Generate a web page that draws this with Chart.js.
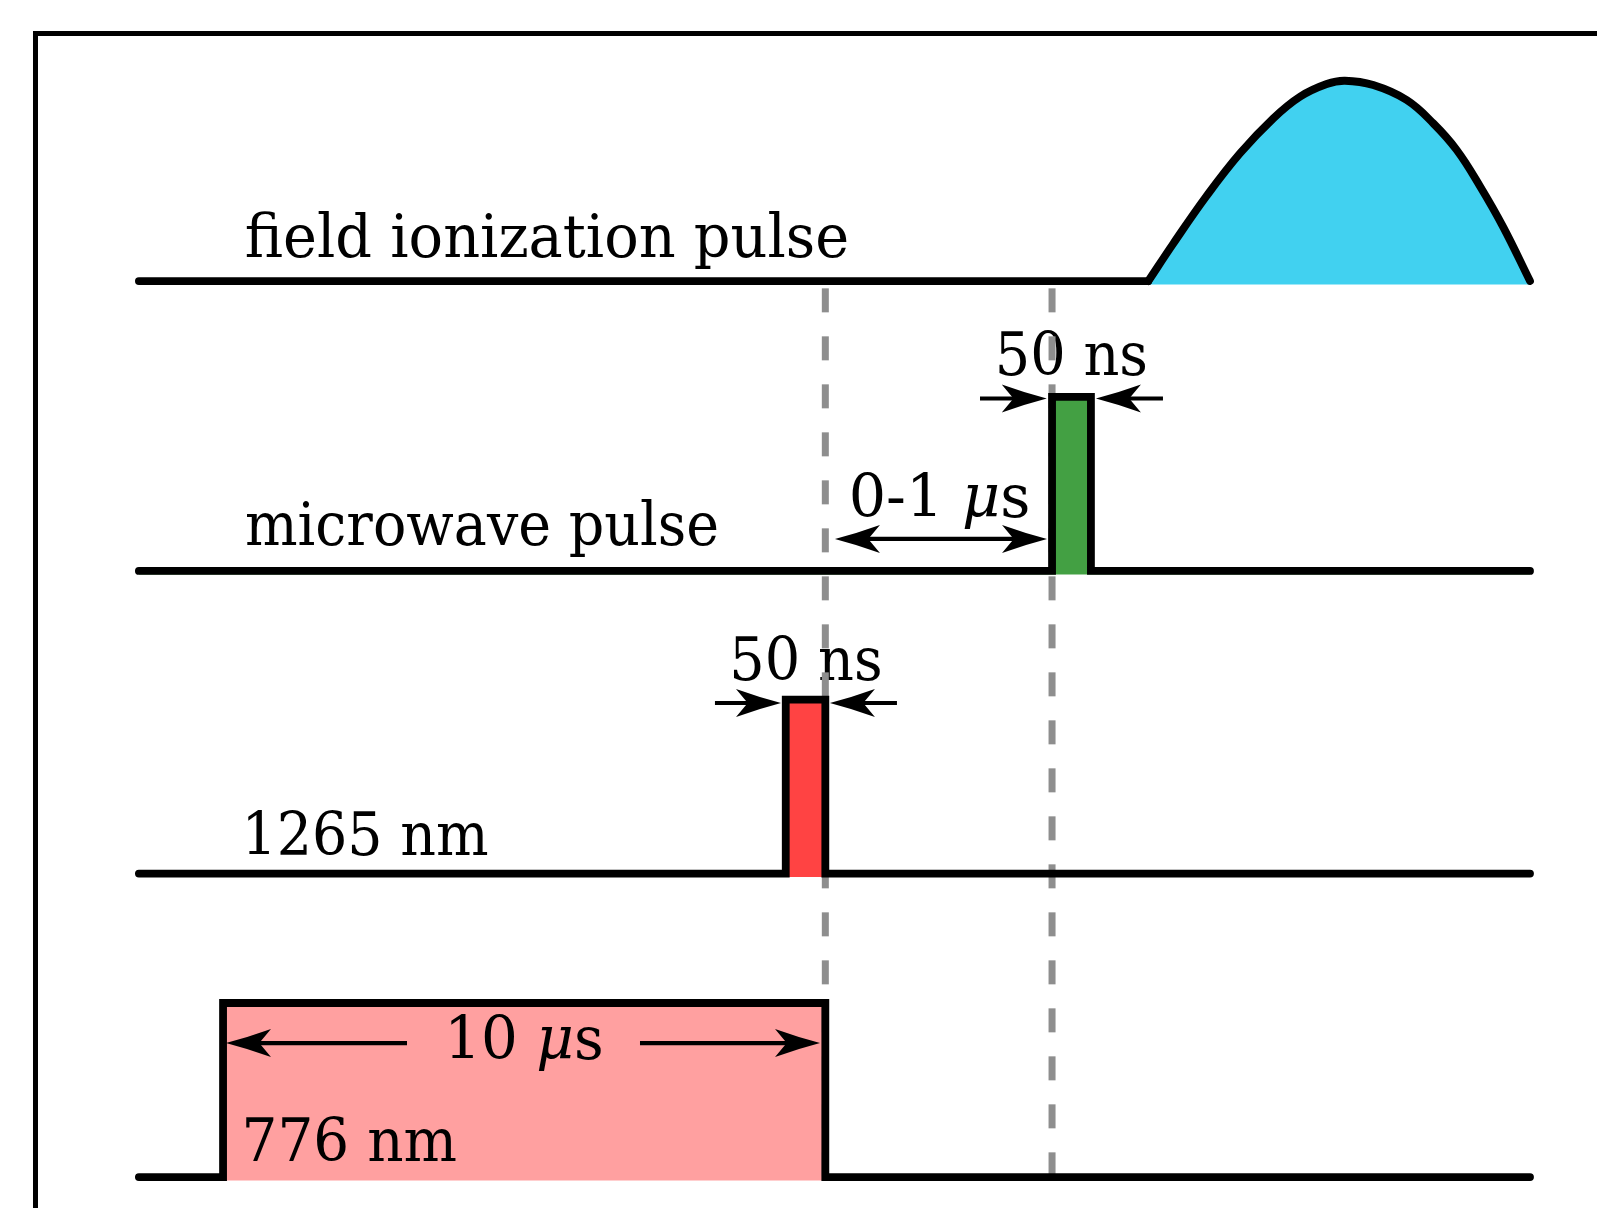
<!DOCTYPE html>
<html>
<head>
<meta charset="utf-8">
<title>Pulse sequence</title>
<script src="https://cdn.jsdelivr.net/npm/chart.js@4.4.1/dist/chart.umd.min.js"></script>
<style>
  html, body { margin: 0; padding: 0; background: #ffffff; overflow: hidden; }
  canvas { display: block; }
</style>
</head>
<body>
<canvas id="seq" width="1597" height="1208"></canvas>
<script>
// Channels, bottom to top
const channelNames = ['776 nm', '1265 nm', 'microwave pulse', 'field ionization pulse'];
// Baseline level of each channel, in units of the pulse height
const channelBaselines = [0, 1.744, 3.483, 5.149];

// Rectangular pulses (schematic time units): channel, switch-on, switch-off
const pulseChannels = [0, 1, 2];
const pulseOn = [6.14, 46.52, 65.63];
const pulseOff = [49.36, 49.36, 68.42];
const pulseHeight = 1;

// Time extent of every trace
const traceStart = 0.1;
const traceEnd = 99.93;

// Field ionization ramp: times and heights above its baseline
const rampTimes = [72.54, 74.33, 76.73, 79.12, 81.51, 83.42, 85.34, 86.65, 88.68, 91.08, 92.99, 94.67, 96.34, 98.01, 99.93];
const rampHeights = [0, 0.215, 0.49, 0.734, 0.935, 1.059, 1.132, 1.151, 1.126, 1.040, 0.906, 0.753, 0.545, 0.31, 0];

// Dashed timing markers: times, and the level range they span (top, bottom)
const markerTimes = [49.36, 65.63];
const markerSpan = [5.107, 0];

// Duration annotations
const spanTexts = ['50 ns', '0-1 μs', '50 ns', '10 μs'];

// ---- styling ----
const colors = {
  trace: '#000000',
  marker: '#8e8e8e',
  fills: ['#ffa0a0', '#ff4343', '#43a043'],
  ramp: '#41d1f0'
};
const traceWidth = 7.8;
const FONT_FAMILY = '"DejaVu Serif", "Liberation Serif", serif';
const FONT_SIZE = 60;

// Label placement: parts (italic flags), anchor (t, level), ink width in px
const labels = [
  { parts: [[channelNames[3], false]], t: 7.84, v: 5.289, w: 600 },
  { parts: [[channelNames[2], false]], t: 7.84, v: 3.632, w: 470 },
  { parts: [[channelNames[1], false]], t: 7.92, v: 1.848, w: 240 },
  { parts: [[channelNames[0], false]], t: 7.8, v: 0.092, w: 210 },
  { parts: [[spanTexts[0], false]], t: 61.85, v: 4.609, w: 146 },
  { parts: [['0-1 ', false], ['μ', true], ['s', false]], t: 51.25, v: 3.795, w: 176 },
  { parts: [[spanTexts[2], false]], t: 42.8, v: 2.856, w: 146 },
  { parts: [['10 ', false], ['μ', true], ['s', false]], t: 22.5, v: 0.677, w: 150 }
];

// Arrows: tail (t, level) -> tip (t, level); double = heads at both ends
const arrows = [
  { from: [60.46, 4.474], to: [65.25, 4.474] },
  { from: [73.59, 4.474], to: [68.78, 4.474] },
  { from: [50.05, 3.667], to: [65.27, 3.667], double: true },
  { from: [41.44, 2.724], to: [46.18, 2.724] },
  { from: [54.50, 2.724], to: [49.69, 2.724] },
  { from: [19.34, 0.770], to: [6.35, 0.770] },
  { from: [36.06, 0.770], to: [48.98, 0.770] }
];

// Outer frame corner (t, level); the frame runs off the right and bottom edges
const frameCorner = [-7.32, 6.571];

// ---- datasets ----
function pulseTrace(i) {
  const b = channelBaselines[pulseChannels[i]];
  return [
    { x: traceStart, y: b },
    { x: pulseOn[i], y: b },
    { x: pulseOn[i], y: b + pulseHeight },
    { x: pulseOff[i], y: b + pulseHeight },
    { x: pulseOff[i], y: b },
    { x: traceEnd, y: b }
  ];
}

const lineBase = {
  type: 'line',
  borderColor: colors.trace,
  borderWidth: traceWidth,
  borderCapStyle: 'round',
  borderJoinStyle: 'miter',
  pointRadius: 0,
  tension: 0,
  fill: false
};

const datasets = [];

// 1265 nm and microwave traces with filled pulses
[1, 2].forEach(i => {
  datasets.push(Object.assign({}, lineBase, {
    label: channelNames[pulseChannels[i]],
    data: pulseTrace(i),
    fill: { value: channelBaselines[pulseChannels[i]] - 0.02 },
    backgroundColor: colors.fills[i]
  }));
});

// 776 nm trace (its fill is a separate layer underneath the labels)
datasets.push(Object.assign({}, lineBase, {
  label: channelNames[0],
  data: pulseTrace(0)
}));

// field ionization: flat part, then the ramp
const fb = channelBaselines[3];
datasets.push(Object.assign({}, lineBase, {
  label: channelNames[3],
  data: [{ x: traceStart, y: fb }, { x: rampTimes[0], y: fb }]
}));
datasets.push(Object.assign({}, lineBase, {
  label: channelNames[3] + ' ramp',
  data: rampTimes.map((t, k) => ({ x: t, y: fb + rampHeights[k] })),
  tension: 0.4,
  borderJoinStyle: 'round',
  fill: { value: fb - 0.02 },
  backgroundColor: colors.ramp
}));

// dashed timing markers
markerTimes.forEach(t => {
  datasets.push({
    type: 'line',
    label: 'marker',
    data: [{ x: t, y: markerSpan[0] }, { x: t, y: markerSpan[1] }],
    borderColor: colors.marker,
    borderWidth: 7,
    borderDash: [24, 24],
    borderCapStyle: 'butt',
    pointRadius: 0,
    fill: false
  });
});

// 776 nm pulse area (drawn first)
const PINK_INDEX = datasets.length;
datasets.push({
  type: 'line',
  label: channelNames[0] + ' area',
  data: [
    { x: pulseOn[0], y: channelBaselines[0] },
    { x: pulseOn[0], y: channelBaselines[0] + pulseHeight },
    { x: pulseOff[0], y: channelBaselines[0] + pulseHeight },
    { x: pulseOff[0], y: channelBaselines[0] }
  ],
  borderWidth: 0,
  borderColor: 'rgba(0,0,0,0)',
  backgroundColor: colors.fills[0],
  pointRadius: 0,
  fill: { value: channelBaselines[0] - 0.02 }
});

// ---- drawing helpers ----
function fontFor(italic) {
  return (italic ? 'italic ' : '') + FONT_SIZE + 'px ' + FONT_FAMILY;
}

function drawLabel(ctx, lab, px, py) {
  const ms = lab.parts.map(([txt, it]) => { ctx.font = fontFor(it); return ctx.measureText(txt); });
  let adv = 0;
  const offs = ms.map(m => { const o = adv; adv += m.width; return o; });
  const last = ms.length - 1;
  const inkL = -ms[0].actualBoundingBoxLeft;
  const inkR = offs[last] + ms[last].actualBoundingBoxRight;
  const sx = lab.w / (inkR - inkL);
  ctx.save();
  ctx.translate(px - inkL * sx, py);
  ctx.scale(sx, 1);
  ctx.fillStyle = '#000';
  ctx.textBaseline = 'alphabetic';
  ctx.textAlign = 'left';
  lab.parts.forEach(([txt, it], k) => {
    ctx.font = fontFor(it);
    ctx.fillText(txt, offs[k], 0);
  });
  ctx.restore();
}

function drawHead(ctx, tx, ty, dir) {
  const L = 45, H = 14;
  ctx.save();
  ctx.translate(tx, ty);
  ctx.scale(dir, 1);
  ctx.beginPath();
  ctx.moveTo(0, 0);
  ctx.quadraticCurveTo(-L * 0.5, -H * 0.42, -L, -H);
  ctx.lineTo(-L * 0.74, 0);
  ctx.lineTo(-L, H);
  ctx.quadraticCurveTo(-L * 0.5, H * 0.42, 0, 0);
  ctx.closePath();
  ctx.fillStyle = '#000';
  ctx.fill();
  ctx.restore();
}

function drawArrow(ctx, x0, y0, x1, y1, dbl) {
  const dir = Math.sign(x1 - x0);
  const back = 45 * 0.7;
  ctx.save();
  ctx.strokeStyle = '#000';
  ctx.lineWidth = 4.2;
  ctx.lineCap = 'butt';
  ctx.beginPath();
  ctx.moveTo(dbl ? x0 + dir * back : x0, y0);
  ctx.lineTo(x1 - dir * back, y1);
  ctx.stroke();
  ctx.restore();
  drawHead(ctx, x1, y1, dir);
  if (dbl) drawHead(ctx, x0, y0, -dir);
}

const annotate = {
  id: 'annotate',
  beforeDatasetsDraw(chart) {
    const { ctx, scales: { x, y } } = chart;
    const fx = x.getPixelForValue(frameCorner[0]);
    const fy = y.getPixelForValue(frameCorner[1]);
    ctx.save();
    ctx.strokeStyle = '#000';
    ctx.lineWidth = 5;
    ctx.lineJoin = 'miter';
    ctx.beginPath();
    ctx.moveTo(fx, chart.height + 10);
    ctx.lineTo(fx, fy);
    ctx.lineTo(chart.width + 10, fy);
    ctx.stroke();
    ctx.restore();
  },
  afterDatasetDraw(chart, args) {
    if (args.index !== PINK_INDEX) return;
    const { ctx, scales: { x, y } } = chart;
    labels.forEach(lab => drawLabel(ctx, lab, x.getPixelForValue(lab.t), y.getPixelForValue(lab.v)));
  },
  afterDatasetsDraw(chart) {
    const { ctx, scales: { x, y } } = chart;
    arrows.forEach(a => drawArrow(ctx,
      x.getPixelForValue(a.from[0]), y.getPixelForValue(a.from[1]),
      x.getPixelForValue(a.to[0]), y.getPixelForValue(a.to[1]), a.double));
  }
};

new Chart(document.getElementById('seq'), {
  type: 'line',
  data: { datasets },
  options: {
    responsive: false,
    devicePixelRatio: 1,
    animation: false,
    layout: { padding: 0 },
    plugins: { legend: { display: false }, tooltip: { enabled: false } },
    scales: {
      x: { type: 'linear', display: false, min: -9.867, max: 104.737 },
      y: { type: 'linear', display: false, min: -0.178, max: 6.764 }
    }
  },
  plugins: [annotate]
});
</script>
</body>
</html>
